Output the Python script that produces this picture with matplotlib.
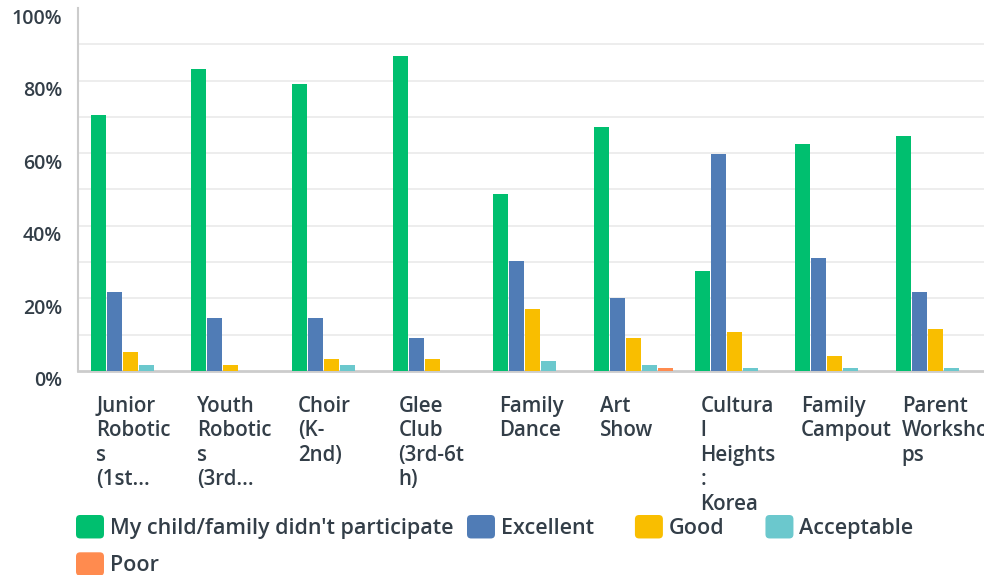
import matplotlib
matplotlib.use("Agg")
import matplotlib.pyplot as plt
import matplotlib.transforms as mtransforms
from matplotlib.patches import Patch, FancyBboxPatch
from matplotlib.legend_handler import HandlerPatch
import numpy as np

# survey results, percent of respondents per event
categories = ["Junior\nRobotic\ns\n(1st...", "Youth\nRobotic\ns\n(3rd...", "Choir\n(K-\n2nd)",
              "Glee\nClub\n(3rd-6t\nh)", "Family\nDance", "Art\nShow",
              "Cultura\nl\nHeights\n:\nKorea", "Family\nCampout", "Parent\nWorksho\nps"]
series_names = ["My child/family didn't participate", "Excellent", "Good", "Acceptable", "Poor"]
did_not_participate = [70.4, 83.3, 79.2, 86.7, 48.8, 67.3, 27.5, 62.6, 64.8]
excellent = [21.7, 14.6, 14.6, 9.0, 30.3, 20.1, 59.8, 31.1, 21.7]
good = [5.2, 1.6, 3.2, 3.2, 17.0, 9.0, 10.7, 4.1, 11.5]
acceptable = [1.6, 0.0, 1.6, 0.0, 2.7, 1.6, 0.8, 0.8, 0.8]
poor = [0.0, 0.0, 0.0, 0.0, 0.0, 0.8, 0.0, 0.0, 0.0]
colors = ["#00BF6F", "#507CB6", "#F9BE00", "#6BC8CD", "#FF8B4F"]

TEXT = "#333E48"
FONT = "Open Sans"

fig = plt.figure(figsize=(9.84, 5.75), dpi=100)
ax = fig.add_axes([0.0793, 0.355, 0.9207, 0.631])

x = np.arange(len(categories))
step = 0.159
width = 0.149
values = [did_not_participate, excellent, good, acceptable, poor]
for k, (vals, col) in enumerate(zip(values, colors)):
    ax.bar(x + 0.017 + (k - 2) * step, vals, width=width, color=col, zorder=3)

ax.set_xlim(-0.5, len(categories) - 0.5)
ax.set_ylim(0, 100)

# gridlines every 10%, none at the top
for g in range(10, 100, 10):
    ax.axhline(g, color="#EDEDED", lw=1.4, zorder=1)

ax.set_yticks(range(0, 101, 20))
ax.set_yticklabels([f"{v}%" for v in range(0, 101, 20)], fontfamily=FONT,
                   fontweight="semibold", fontsize=14, color=TEXT)
ax.tick_params(axis="y", length=0, pad=11.5)
shift = mtransforms.ScaledTranslation(0, -0.08, fig.dpi_scale_trans)
for lab in ax.get_yticklabels():
    lab.set_transform(lab.get_transform() + shift)

ax.set_xticks([])
for spine in ["top", "right"]:
    ax.spines[spine].set_visible(False)
ax.spines["left"].set_color("#CCCCCC")
ax.spines["left"].set_linewidth(1.5)
ax.spines["bottom"].set_color("#CCCCCC")
ax.spines["bottom"].set_linewidth(2)

# category labels, left aligned under each group
trans = mtransforms.blended_transform_factory(ax.transData, ax.transAxes)
for i, name in enumerate(categories):
    ax.text(i - 0.318, -0.068, name, transform=trans, ha="left", va="top",
            fontsize=14.8, family=FONT, fontweight="semibold", color=TEXT,
            linespacing=1.22, clip_on=False)


def rounded(legend, orig_handle, xdescent, ydescent, width, height, fontsize):
    return FancyBboxPatch((-xdescent, -ydescent), width, height,
                          boxstyle="round,pad=0,rounding_size=3")


handles = [Patch(facecolor=c, edgecolor="none") for c in colors]
leg_kw = dict(loc="upper left", frameon=False, handlelength=1.3, handleheight=1.3,
              handletextpad=0.28, labelspacing=0.62, borderpad=0, borderaxespad=0,
              prop={"family": FONT, "weight": "semibold", "size": 15.5}, labelcolor=TEXT,
              handler_map={Patch: HandlerPatch(patch_func=rounded)})
# first column: participation + poor, remaining entries on the first row
fig.legend([handles[0], handles[4]], [series_names[0], series_names[4]],
           bbox_to_anchor=(76 / 984, 1 - 515 / 575), ncol=1, **leg_kw)
fig.legend(handles[1:4], series_names[1:4],
           bbox_to_anchor=(467 / 984, 1 - 515 / 575), ncol=3, columnspacing=1.9, **leg_kw)

fig.savefig("out.png", dpi=100)
